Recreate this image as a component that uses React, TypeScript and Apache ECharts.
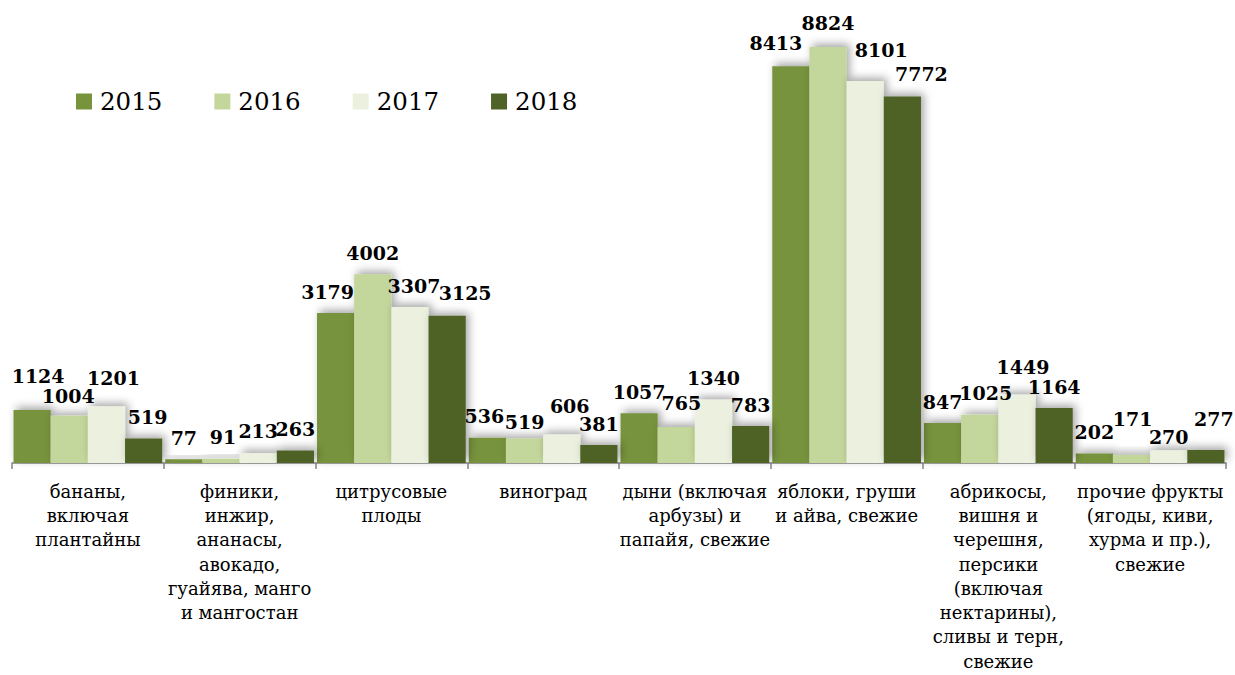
import React, { useEffect, useRef } from "react";
import * as echarts from "echarts";

const categories = [
  "бананы,\nвключая\nплантайны",
  "финики,\nинжир,\nананасы,\nавокадо,\nгуайява, манго\nи мангостан",
  "цитрусовые\nплоды",
  "виноград",
  "дыни (включая\nарбузы) и\nпапайя, свежие",
  "яблоки, груши\nи айва, свежие",
  "абрикосы,\nвишня и\nчерешня,\nперсики\n(включая\nнектарины),\nсливы и терн,\nсвежие",
  "прочие фрукты\n(ягоды, киви,\nхурма и пр.),\nсвежие",
];

const seriesNames = ["2015", "2016", "2017", "2018"];
const values2015 = [1124, 77, 3179, 536, 1057, 8413, 847, 202];
const values2016 = [1004, 91, 4002, 519, 765, 8824, 1025, 171];
const values2017 = [1201, 213, 3307, 606, 1340, 8101, 1449, 270];
const values2018 = [519, 263, 3125, 381, 783, 7772, 1164, 277];
const seriesValues = [values2015, values2016, values2017, values2018];
const colors = ["#77933C", "#C3D69B", "#EBF1DE", "#4F6228"];

// label nudges [dx, dy] keyed by "series-category" (style only)
const labelNudge: Record<string, [number, number]> = {
  "0-0": [6, -12],
  "1-0": [-1, 2],
  "2-0": [7, -7],
  "3-0": [4, 0],
  "1-1": [2, 0],
  "0-2": [-8, 0],
  "2-2": [4, 0],
  "3-2": [18, -1],
  "0-3": [-3, 0],
  "1-3": [0, 5],
  "2-3": [8, -7],
  "1-4": [5, -2],
  "0-5": [-15, -2],
  "1-5": [0, -2],
  "2-5": [16, -9],
  "3-5": [19, -1],
  "1-6": [6, 0],
  "2-6": [6, -6],
  "1-7": [1, -14],
  "2-7": [0, 8],
  "3-7": [8, -9],
};

export default function App() {
  const ref = useRef<HTMLDivElement>(null);
  useEffect(() => {
    if (!ref.current) return;
    const chart = echarts.init(ref.current, null, { renderer: "svg" });
    const series = seriesValues.map((vals, s) => ({
      name: seriesNames[s],
      type: "bar",
      barGap: "0%",
      barCategoryGap: "2%",
      itemStyle: {
        color: colors[s],
        shadowColor: "rgba(0,0,0,0.35)",
        shadowBlur: 8,
        shadowOffsetX: 3,
        shadowOffsetY: -3,
      },
      label: {
        show: true,
        position: "top",
        distance: 13,
        fontFamily: "DejaVu Serif",
        fontWeight: "bold",
        fontSize: 19,
        lineHeight: 17,
        color: "#000",
      },
      data: vals.map((v, c) => {
        const n = labelNudge[`${s}-${c}`];
        if (!n) return v;
        return { value: v, label: { offset: n } };
      }),
    }));
    chart.setOption({
      animation: false,
      backgroundColor: "#fff",
      legend: {
        data: seriesNames,
        left: 76,
        top: 89,
        padding: 0,
        icon: "rect",
        itemWidth: 16,
        itemHeight: 16,
        itemGap: 52,
        textStyle: {
          fontFamily: "DejaVu Serif",
          fontSize: 24.5,
          color: "#000",
          padding: [0, 0, 0, 3],
        },
      },
      grid: { left: 12, right: 9, top: 38.6, bottom: 212, containLabel: false },
      xAxis: {
        type: "category",
        data: categories,
        axisLine: { show: true, lineStyle: { color: "#868686", width: 1.5 } },
        axisTick: { show: true, length: 6, lineStyle: { color: "#868686", width: 1.5 } },
        axisLabel: {
          interval: 0,
          margin: 16,
          fontFamily: "DejaVu Serif",
          fontSize: 18,
          lineHeight: 24.3,
          color: "#000",
        },
      },
      yAxis: { type: "value", min: 0, max: 9000, show: false, splitLine: { show: false } },
      series,
    });
    return () => chart.dispose();
  }, []);
  return (
    <div
      ref={ref}
      style={{ position: "absolute", left: 0, top: 0, width: 1235, height: 675 }}
    />
  );
}
